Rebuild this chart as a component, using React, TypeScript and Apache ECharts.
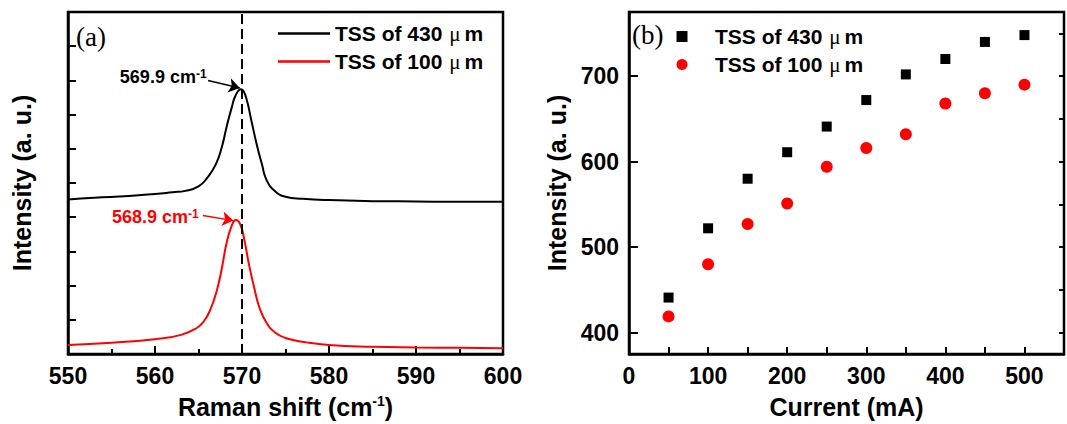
import React, { useEffect, useRef } from 'react';
import * as echarts from 'echarts';

// ---- Panel (a): Raman spectra ----
const ramanShift430 = [550, 553, 557, 560, 562, 563.5, 565, 566, 567, 567.7, 568.2, 568.8, 569.3, 569.9, 570.2, 570.6, 571.1, 571.7, 572.3, 572.8, 573.8, 575, 577, 580, 585, 590, 595, 600];
const intensity430 = [4.52, 4.57, 4.62, 4.68, 4.73, 4.77, 4.9, 5.15, 5.55, 6.07, 6.61, 7.19, 7.58, 7.74, 7.68, 7.38, 6.8, 6.12, 5.54, 5.1, 4.76, 4.6, 4.54, 4.5, 4.47, 4.46, 4.45, 4.45];
const ramanShift100 = [550, 555, 560, 563, 564.8, 565.6, 566.3, 567.1, 567.7, 568.2, 568.8, 569.3, 569.8, 570.3, 570.8, 571.4, 572, 572.8, 573.8, 575, 577.4, 580, 585, 590, 595, 600];
const intensity100 = [0.26, 0.33, 0.43, 0.56, 0.76, 0.95, 1.26, 1.85, 2.53, 3.21, 3.74, 3.92, 3.79, 3.3, 2.62, 1.94, 1.36, 0.92, 0.63, 0.47, 0.34, 0.26, 0.21, 0.19, 0.18, 0.17];
const dashedLineShift = 570;
const peakLabels = ['569.9', '568.9'];

// ---- Panel (b): intensity vs current ----
const currents = [50, 100, 150, 200, 250, 300, 350, 400, 450, 500];
const peakIntensity430 = [441, 522, 580, 611, 641, 672, 702, 720, 740, 748];
const peakIntensity100 = [419, 480, 527, 551, 594, 616, 632, 668, 680, 690];

const seriesLabels = ['TSS of 430 μm', 'TSS of 100 μm'];

const SANS = "'Liberation Sans', Arial, Helvetica, sans-serif";
const SERIF = "'Liberation Serif', 'Times New Roman', serif";
const RED = '#ff0000';
const BLACK = '#000000';

const zip = (xs: number[], ys: number[]) => xs.map((x, i) => [x, ys[i]]);

const richLegend = (s: string) => s.replace('μ', '{u|μ}');

export default function App() {
  const ref = useRef<HTMLDivElement>(null);

  useEffect(() => {
    document.body.style.margin = '0';
    if (!ref.current) return;
    const chart = echarts.init(ref.current, undefined, { renderer: 'svg' });

    const axisLine = { show: true, lineStyle: { color: BLACK, width: 2.5 } };
    const tickLabel = { color: BLACK, fontSize: 23, fontWeight: 'bold' as const, fontFamily: SANS };
    const nameStyle = {
      color: BLACK,
      fontSize: 25,
      fontWeight: 'bold' as const,
      fontFamily: SANS,
      rich: {
        s: { fontSize: 14, fontWeight: 'bold', fontFamily: SANS, color: BLACK, verticalAlign: 'top' },
      },
    };
    const legendText = {
      color: BLACK,
      fontSize: 21,
      fontWeight: 'bold' as const,
      fontFamily: SANS,
      rich: {
        u: { fontSize: 21, fontFamily: SERIF, fontWeight: 'normal', color: BLACK, padding: [0, 4, 0, 1] },
      },
    };
    const annRich = (color: string) => ({
      n: { fontSize: 18, fontWeight: 'bold', fontFamily: SANS, color },
      s: { fontSize: 12, fontWeight: 'bold', fontFamily: SANS, color, verticalAlign: 'top' },
    });

    const option: any = {
      animation: false,
      backgroundColor: '#ffffff',
      grid: [
        { left: 68, top: 12, width: 435, height: 343, show: true, borderColor: BLACK, borderWidth: 2.5, containLabel: false },
        { left: 629, top: 12, width: 435, height: 345, show: true, borderColor: BLACK, borderWidth: 2.5, containLabel: false },
      ],
      xAxis: [
        {
          gridIndex: 0,
          type: 'value',
          min: 550,
          max: 600,
          interval: 10,
          axisLine,
          axisTick: { show: true, inside: true, length: 8, lineStyle: { color: BLACK, width: 2 } },
          minorTick: { show: true, splitNumber: 2, length: 5, lineStyle: { color: BLACK, width: 2 } },
          splitLine: { show: false },
          minorSplitLine: { show: false },
          axisLabel: { ...tickLabel, margin: 10 },
          name: 'Raman shift (cm{s|-1})',
          nameLocation: 'middle',
          nameGap: 40,
          nameTextStyle: nameStyle,
        },
        {
          gridIndex: 1,
          type: 'value',
          min: 0,
          max: 550,
          interval: 50,
          axisLine,
          axisTick: { show: true, inside: true, length: 7, lineStyle: { color: BLACK, width: 2 } },
          splitLine: { show: false },
          axisLabel: { ...tickLabel, margin: 10, formatter: (v: number) => (v % 100 === 0 ? String(v) : '') },
          name: 'Current (mA)',
          nameLocation: 'middle',
          nameGap: 40,
          nameTextStyle: nameStyle,
        },
      ],
      yAxis: [
        {
          gridIndex: 0,
          type: 'value',
          min: 0,
          max: 10,
          interval: 1,
          axisLine,
          axisTick: { show: true, inside: true, length: 8, lineStyle: { color: BLACK, width: 2 } },
          splitLine: { show: false },
          axisLabel: { show: false },
          name: 'Intensity (a. u.)',
          nameLocation: 'middle',
          nameGap: 34,
          nameTextStyle: nameStyle,
        },
        {
          gridIndex: 1,
          type: 'value',
          min: 375,
          max: 775,
          splitNumber: 4,
          axisLine,
          axisTick: { show: true, inside: true, length: 9, lineStyle: { color: BLACK, width: 2 } },
          splitLine: { show: false },
          axisLabel: {
            ...tickLabel,
            margin: 10,
            showMinLabel: false,
            showMaxLabel: false,
            formatter: (v: number) => (v % 100 === 0 ? String(v) : ''),
          },
          name: 'Intensity (a. u.)',
          nameLocation: 'middle',
          nameGap: 60,
          nameTextStyle: nameStyle,
        },
        {
          gridIndex: 1,
          type: 'value',
          min: 375,
          max: 775,
          splitNumber: 8,
          axisLine: { show: false },
          axisTick: { show: true, inside: true, length: 5, lineStyle: { color: BLACK, width: 2 } },
          splitLine: { show: false },
          axisLabel: { show: false },
        },
      ],
      legend: [
        {
          left: 278,
          top: 23,
          padding: 0,
          orient: 'vertical',
          itemWidth: 52,
          itemHeight: 2.5,
          itemGap: 7,
          symbolKeepAspect: false,
          data: [
            { name: 'a430', icon: 'rect' },
            { name: 'a100', icon: 'rect' },
          ],
          formatter: (n: string) => richLegend(n === 'a430' ? seriesLabels[0] : seriesLabels[1]),
          textStyle: legendText,
          selectedMode: false,
        },
        {
          // icons are centred in a 56px slot; ECharts aligns the group by its visible
          // bounds, so the 22.5px empty margin before the icon is added back here
          left: 676.5,
          top: 26,
          padding: 0,
          orient: 'vertical',
          itemWidth: 56,
          itemHeight: 11,
          itemGap: 7,
          symbolKeepAspect: true,
          data: [
            { name: 'b430', icon: 'path://M0 0H10V10H0Z' },
            { name: 'b100', icon: 'circle' },
          ],
          formatter: (n: string) => richLegend(n === 'b430' ? seriesLabels[0] : seriesLabels[1]),
          textStyle: legendText,
          selectedMode: false,
        },
      ],
      series: [
        {
          name: 'a430',
          type: 'line',
          xAxisIndex: 0,
          yAxisIndex: 0,
          data: zip(ramanShift430, intensity430),
          smooth: true,
          symbol: 'none',
          color: BLACK,
          lineStyle: { color: BLACK, width: 2 },
          markLine: {
            silent: true,
            symbolSize: 11,
            label: { show: false },
            data: [
              [
                { coord: [dashedLineShift, 0], symbol: 'none', lineStyle: { color: BLACK, width: 2, type: [10, 5] } },
                { coord: [dashedLineShift, 10], symbol: 'none', lineStyle: { color: BLACK, width: 2, type: [10, 5] } },
              ],
              [
                { coord: [566.1, 8.0], symbol: 'none', lineStyle: { color: BLACK, width: 1.5, type: 'solid' } },
                { coord: [569.75, 7.78], symbol: 'arrow', lineStyle: { color: BLACK, width: 1.5, type: 'solid' } },
              ],
            ],
          },
          markPoint: {
            silent: true,
            symbol: 'circle',
            symbolSize: 1,
            itemStyle: { color: 'transparent' },
            data: [
              {
                coord: [566.1, 8.1],
                label: {
                  show: true,
                  position: 'left',
                  distance: 1,
                  formatter: `{n|${peakLabels[0]} cm}{s|-1}`,
                  rich: annRich(BLACK),
                },
              },
            ],
          },
        },
        {
          name: 'a100',
          type: 'line',
          xAxisIndex: 0,
          yAxisIndex: 0,
          data: zip(ramanShift100, intensity100),
          smooth: true,
          symbol: 'none',
          color: RED,
          lineStyle: { color: RED, width: 2 },
          markLine: {
            silent: true,
            symbolSize: 11,
            label: { show: false },
            data: [
              [
                { coord: [565.5, 4.05], symbol: 'none', lineStyle: { color: RED, width: 1.5, type: 'solid' } },
                { coord: [569.0, 3.9], symbol: 'arrow', lineStyle: { color: RED, width: 1.5, type: 'solid' } },
              ],
            ],
          },
          markPoint: {
            silent: true,
            symbol: 'circle',
            symbolSize: 1,
            itemStyle: { color: 'transparent' },
            data: [
              {
                coord: [565.2, 4.02],
                label: {
                  show: true,
                  position: 'left',
                  distance: 1,
                  formatter: `{n|${peakLabels[1]} cm}{s|-1}`,
                  rich: annRich(RED),
                },
              },
            ],
          },
        },
        {
          name: 'b430',
          type: 'scatter',
          xAxisIndex: 1,
          yAxisIndex: 1,
          data: zip(currents, peakIntensity430),
          symbol: 'rect',
          symbolSize: 10,
          color: BLACK,
          itemStyle: { color: BLACK, opacity: 1 },
        },
        {
          name: 'b100',
          type: 'scatter',
          xAxisIndex: 1,
          yAxisIndex: 1,
          data: zip(currents, peakIntensity100),
          symbol: 'circle',
          symbolSize: 12,
          color: RED,
          itemStyle: { color: RED, opacity: 1 },
        },
      ],
      graphic: [
        {
          type: 'text',
          x: 76,
          y: 37,
          style: { text: '(a)', fontSize: 27, fontFamily: SERIF, fill: BLACK, verticalAlign: 'middle' },
        },
        {
          type: 'text',
          x: 632,
          y: 35,
          style: { text: '(b)', fontSize: 27, fontFamily: SERIF, fill: BLACK, verticalAlign: 'middle' },
        },
      ],
    };

    chart.setOption(option);
    return () => chart.dispose();
  }, []);

  return <div ref={ref} style={{ width: 1067, height: 424 }} />;
}
